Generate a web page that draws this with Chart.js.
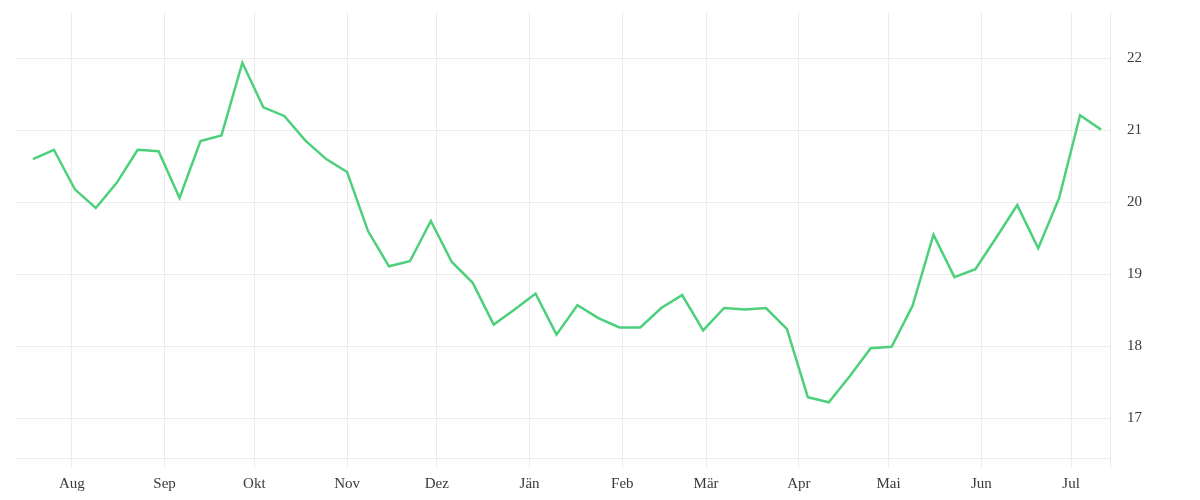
<!DOCTYPE html>
<html lang="de">
<head>
<meta charset="utf-8">
<title>Wochenverlauf</title>
<script src="https://cdn.jsdelivr.net/npm/chart.js@4.4.1/dist/chart.umd.min.js"></script>
<style>
    html, body { margin: 0; padding: 0; background: #fff; }
    #wrap { width: 1200px; height: 500px; position: relative; }
</style>
</head>
<body>
<div id="wrap"><canvas id="lineChart"></canvas></div>
<script>
// Wochenwerte (jeweils ein Punkt pro Woche)
const weeks = [
    '2022-07-19', '2022-07-26', '2022-08-02', '2022-08-09', '2022-08-16', '2022-08-23', '2022-08-30',
    '2022-09-06', '2022-09-13', '2022-09-20', '2022-09-27', '2022-10-04', '2022-10-11', '2022-10-18',
    '2022-10-25', '2022-11-01', '2022-11-08', '2022-11-15', '2022-11-22', '2022-11-29', '2022-12-06',
    '2022-12-13', '2022-12-20', '2022-12-27', '2023-01-03', '2023-01-10', '2023-01-17', '2023-01-24',
    '2023-01-31', '2023-02-07', '2023-02-14', '2023-02-21', '2023-02-28', '2023-03-07', '2023-03-14',
    '2023-03-21', '2023-03-28', '2023-04-04', '2023-04-11', '2023-04-18', '2023-04-25', '2023-05-02',
    '2023-05-09', '2023-05-16', '2023-05-23', '2023-05-30', '2023-06-06', '2023-06-13', '2023-06-20',
    '2023-06-27', '2023-07-04', '2023-07-11'
];
const values = [
    20.60, 20.73, 20.18, 19.92, 20.27, 20.73, 20.71,
    20.06, 20.85, 20.93, 21.94, 21.32, 21.20, 20.86,
    20.60, 20.42, 19.60, 19.11, 19.18, 19.74, 19.17,
    18.88, 18.30, 18.51, 18.73, 18.16, 18.57, 18.39,
    18.26, 18.26, 18.53, 18.71, 18.22, 18.53, 18.51,
    18.53, 18.24, 17.29, 17.22, 17.58, 17.97, 17.99,
    18.56, 19.55, 18.96, 19.07, 19.51, 19.96, 19.36,
    20.06, 21.21, 21.01
];
const monthStarts = [
    '2022-08-01', '2022-09-01', '2022-10-01', '2022-11-01', '2022-12-01', '2023-01-01',
    '2023-02-01', '2023-03-01', '2023-04-01', '2023-05-01', '2023-06-01', '2023-07-01'
];
const monthLabels = ['Aug', 'Sep', 'Okt', 'Nov', 'Dez', 'Jän', 'Feb', 'Mär', 'Apr', 'Mai', 'Jun', 'Jul'];
const yTicks = [17, 18, 19, 20, 21, 22];
const xRange = ['2022-07-13', '2023-07-14'];
const yRange = [16.445, 22.645];

const gridColor = '#ececec';
const textColor = '#3a3a3a';

function dayNum(s) {
    return Date.parse(s) / 86400000;
}

document.addEventListener('DOMContentLoaded', function () {
    const points = weeks.map((w, i) => ({ x: dayNum(w), y: values[i] }));
    drawLineChart(points);
});

function drawLineChart(points) {
    const ctx = document.getElementById('lineChart').getContext('2d');
    const tickFont = { family: '"Liberation Serif", "DejaVu Serif", serif', size: 15 };

    window.myLineChart = new Chart(ctx, {
        type: 'line',
        data: {
            datasets: [{
                data: points,
                borderColor: '#4cd07b',
                borderWidth: 2.5,
                pointRadius: 0,
                tension: 0,
                fill: false
            }]
        },
        options: {
            responsive: true,
            maintainAspectRatio: false,
            animation: false,
            layout: { padding: { left: 15, top: 12, right: 0, bottom: 0 } },
            plugins: {
                legend: { display: false },
                tooltip: { enabled: false }
            },
            scales: {
                x: {
                    type: 'linear',
                    min: dayNum(xRange[0]),
                    max: dayNum(xRange[1]),
                    afterBuildTicks: function (scale) {
                        const t = monthStarts.map(d => ({ value: dayNum(d) }));
                        t.push({ value: scale.max });
                        scale.ticks = t;
                    },
                    afterFit: function (scale) {
                        scale.height = 42;
                        scale.paddingLeft = 0;
                        scale.paddingRight = 0;
                    },
                    grid: {
                        color: gridColor,
                        lineWidth: 1,
                        drawTicks: true,
                        tickLength: 10,
                        tickColor: gridColor
                    },
                    border: { display: true, color: gridColor },
                    ticks: {
                        autoSkip: false,
                        maxRotation: 0,
                        padding: 7,
                        color: textColor,
                        font: tickFont,
                        callback: (value, index) => monthLabels[index] || ''
                    }
                },
                y: {
                    position: 'right',
                    min: yRange[0],
                    max: yRange[1],
                    afterBuildTicks: function (scale) {
                        scale.ticks = yTicks.map(v => ({ value: v }));
                    },
                    afterFit: function (scale) {
                        scale.width = 90;
                        scale.paddingTop = 0;
                        scale.paddingBottom = 0;
                    },
                    grid: {
                        color: gridColor,
                        lineWidth: 1,
                        drawTicks: false
                    },
                    border: { display: false },
                    ticks: {
                        padding: 17,
                        color: textColor,
                        font: tickFont,
                        callback: value => String(value)
                    }
                }
            }
        }
    });
}
</script>
</body>
</html>
